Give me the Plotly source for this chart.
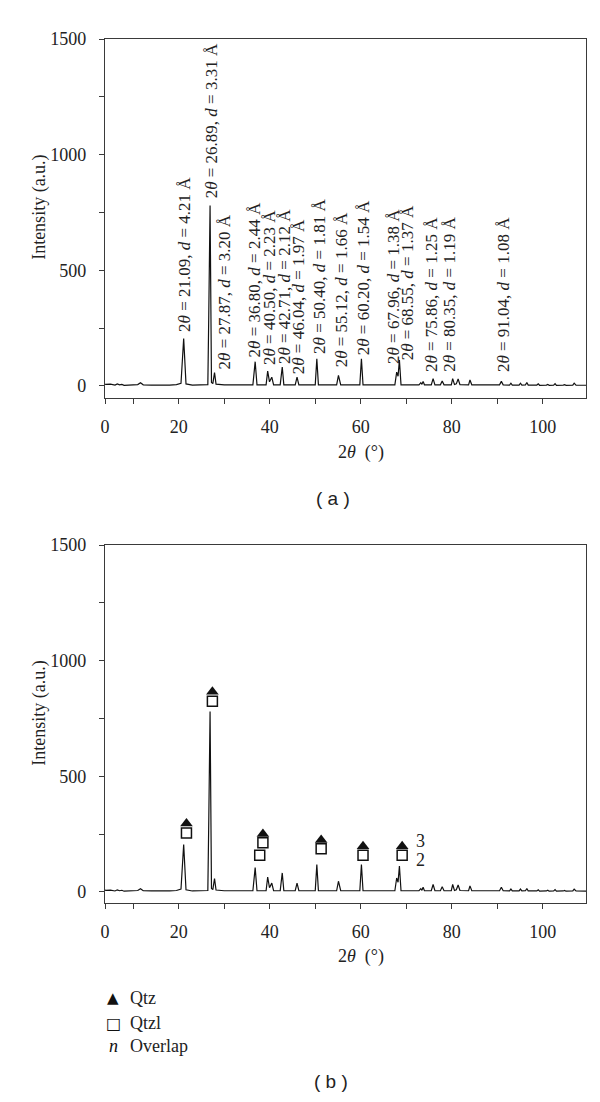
import plotly.graph_objects as go

W, H = 600, 1102

# ------------------------------------------------------------------ data
two_theta = [0.0, 1.0, 2.0, 3.0, 4.0, 5.0, 6.0, 6.5, 7.0, 7.5, 8.0, 9.0, 10.0, 11.0, 11.6, 12.2,
             14.0, 16.0, 18.0, 19.5, 20.5, 21.09, 21.6, 23.0, 25.0, 26.4, 26.6, 26.89, 27.2, 27.5,
             27.87, 28.2, 30.0, 33.0, 36.3, 36.8, 37.2, 39.2, 39.55, 39.95, 40.45, 40.85, 42.3,
             42.75, 43.1, 45.6, 46.0, 46.4, 50.0, 50.35, 50.7, 54.7, 55.1, 55.6, 59.8, 60.15,
             60.5, 67.5, 67.9, 68.2, 68.5, 68.85, 72.8, 73.2, 73.45, 73.7, 74.0, 75.5, 75.9, 76.3,
             77.5, 77.9, 78.3, 79.9, 80.2, 80.6, 81.0, 81.4, 81.8, 83.7, 84.0, 84.4, 90.5, 90.9,
             91.3, 92.7, 93.0, 93.3, 94.8, 95.1, 95.4, 96.2, 96.5, 96.8, 98.7, 99.0, 99.3, 100.8,
             101.1, 101.4, 102.4, 102.7, 103.0, 104.5, 104.8, 105.1, 106.6, 106.9, 107.3, 110.0]
intensity = [9, 10, 8, 9, 7, 8, 4, 9, 5, 7, 3, 4, 5, 6, 14, 5,
             4, 3, 4, 6, 12, 205, 9, 4, 4, 6, 300, 780, 15, 10,
             58, 8, 5, 5, 5, 105, 5, 5, 64, 18, 38, 5, 5,
             82, 5, 5, 38, 5, 5, 118, 5, 5, 46, 5, 5, 118,
             5, 5, 60, 42, 112, 5, 5, 14, 7, 20, 5, 5, 32, 5,
             5, 22, 5, 5, 32, 6, 9, 30, 6, 5, 26, 5, 5, 20,
             5, 4, 12, 4, 4, 12, 4, 5, 15, 4, 4, 9, 3, 4,
             7, 3, 4, 10, 3, 4, 6, 3, 4, 12, 4, 3]

peak_2theta = [21.09, 26.89, 27.87, 36.80, 40.50, 42.71, 46.04, 50.40, 55.12, 60.20,
               67.96, 68.55, 75.86, 80.35, 91.04]
peak_d = ["4.21", "3.31", "3.20", "2.44", "2.23", "2.12", "1.97", "1.81", "1.66", "1.54",
          "1.38", "1.37", "1.25", "1.19", "1.08"]

qtz_2theta = [21.7, 27.4, 38.5, 51.3, 60.5, 69.1]
qtz_intensity = [296, 865, 250, 224, 197, 197]
qtzl_2theta = [21.7, 27.4, 37.8, 38.5, 51.3, 60.5, 69.1]
qtzl_intensity = [255, 824, 159, 212, 187, 159, 159]

x_tickvals = [3.8, 10, 20, 30, 40, 50, 60, 70, 80, 90, 100]
x_ticktext = ["0", "", "20", "", "40", "", "60", "", "80", "", "100"]
y_tickvals = [0, 250, 500, 750, 1000, 1250, 1500]
y_ticktext = ["0", "", "500", "", "1000", "", "1500"]

# ------------------------------------------------------------------ layout helpers
label_y = [230, 805, 65, 120, 87, 91, 48, 135, 78, 130, 92, 108, 57, 57, 57]
label_dx = [1, 1, 9.5, -0.5, -2.3, 2.6, 0.7, 2.6, 2.4, 2.2, -4.1, 8.2, -2.1, -3.8, 0.8]

SERIF = "Liberation Serif"
SANS = "Liberation Sans"
INK = "#222222"
AX = "#3a3a3a"


def py(px):
    return 1 - px / H


fig = go.Figure()

for xa, ya in (("x", "y"), ("x2", "y2")):
    fig.add_trace(go.Scatter(x=two_theta, y=intensity, mode="lines",
                             line=dict(color="#111111", width=1.2),
                             xaxis=xa, yaxis=ya, showlegend=False, hoverinfo="skip"))

fig.add_trace(go.Scatter(x=qtzl_2theta, y=qtzl_intensity, mode="markers",
                         marker=dict(symbol="square", size=10, color="white",
                                     line=dict(color="#111111", width=1.5)),
                         xaxis="x2", yaxis="y2", showlegend=False))
fig.add_trace(go.Scatter(x=qtz_2theta, y=qtz_intensity, mode="markers",
                         marker=dict(symbol="triangle-up", size=11, color="#111111",
                                     line=dict(width=0)),
                         xaxis="x2", yaxis="y2", showlegend=False))

axis_common = dict(showline=True, linecolor=AX, linewidth=1.3, mirror=True,
                   ticks="outside", ticklen=5, tickwidth=1.2, tickcolor=AX,
                   showgrid=False, zeroline=False, automargin=False,
                   tickfont=dict(family=SERIF, size=18, color=INK))

xdom = [97 / W, 578 / W]
fig.update_layout(
    width=W, height=H, autosize=False,
    margin=dict(l=0, r=0, t=0, b=0, autoexpand=False),
    paper_bgcolor="white", plot_bgcolor="white",
    showlegend=False,
    xaxis=dict(domain=xdom, range=[3.8, 109.5], anchor="y", tickmode="array",
               tickvals=x_tickvals, ticktext=x_ticktext, ticklabelstandoff=7, **axis_common),
    yaxis=dict(domain=[py(390), py(31)], range=[-52, 1500], anchor="x", tickmode="array",
               tickvals=y_tickvals, ticktext=y_ticktext, ticklabelstandoff=9, **axis_common),
    xaxis2=dict(domain=xdom, range=[3.8, 109.5], anchor="y2", tickmode="array",
                tickvals=x_tickvals, ticktext=x_ticktext, ticklabelstandoff=7, **axis_common),
    yaxis2=dict(domain=[py(895), py(537)], range=[-48, 1500], anchor="x2", tickmode="array",
                tickvals=y_tickvals, ticktext=y_ticktext, ticklabelstandoff=9, **axis_common),
)

ann = []
# peak labels (top panel)
for t, d, yl, dx in zip(peak_2theta, peak_d, label_y, label_dx):
    ann.append(dict(x=t, y=yl, xref="x", yref="y", xshift=dx,
                    text=f"2<i>θ</i> = {t:.2f}, <i>d</i> = {d} Å",
                    textangle=-90, showarrow=False, xanchor="center", yanchor="bottom",
                    borderpad=0, font=dict(family=SERIF, size=17, color=INK)))

# overlap counts (bottom panel)
for txt, yv in (("3", 222), ("2", 140)):
    ann.append(dict(x=71.6, y=yv, xref="x2", yref="y2", text=txt, showarrow=False,
                    xanchor="left", yanchor="middle",
                    font=dict(family=SERIF, size=18, color=INK)))

# axis titles
for yref in ("y", "y2"):
    ann.append(dict(x=32 / W, y=770, xref="paper", yref=yref, text="Intensity (a.u.)",
                    textangle=-90, showarrow=False, xanchor="center", yanchor="middle",
                    font=dict(family=SERIF, size=18, color=INK)))
for xref, ypx in (("x", 444), ("x2", 948)):
    ann.append(dict(x=60, y=py(ypx), xref=xref, yref="paper",
                    text="2<i>θ</i>\u00a0 (°)", showarrow=False,
                    xanchor="center", yanchor="middle",
                    font=dict(family=SERIF, size=18, color=INK)))

# panel captions
ann.append(dict(x=325 / W, y=py(491), xref="paper", yref="paper", text="( a )",
                showarrow=False, font=dict(family=SANS, size=19, color=INK)))
ann.append(dict(x=323 / W, y=py(1086), xref="paper", yref="paper", text="( b )",
                showarrow=False, font=dict(family=SANS, size=19, color=INK)))

# legend
leg = [("▲", "Qtz", 990, "DejaVu Sans", 15), ("□", "Qtzl", 1015, "DejaVu Sans", 16),
       ("<i>n</i>", "Overlap", 1038, SERIF, 18)]
for sym, lab, ypx, fam, fs in leg:
    ann.append(dict(x=105 / W, y=py(ypx), xref="paper", yref="paper", text=sym,
                    showarrow=False, xanchor="center", yanchor="middle",
                    font=dict(family=fam, size=fs, color="#111111")))
    ann.append(dict(x=120 / W, y=py(ypx), xref="paper", yref="paper", text=lab,
                    showarrow=False, xanchor="left", yanchor="middle",
                    font=dict(family=SERIF, size=18, color=INK)))

fig.update_layout(annotations=ann)
fig.write_html("out.html")
